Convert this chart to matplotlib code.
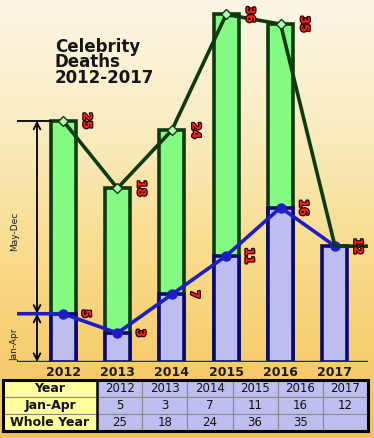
"""Celebrity deaths 2012-2017: whole-year vs Jan-Apr counts, with summary table."""
import matplotlib
matplotlib.use("Agg")
import matplotlib.pyplot as plt
import matplotlib.patheffects as pe
from matplotlib.patches import Rectangle
import numpy as np

YEARS = ["2012", "2013", "2014", "2015", "2016", "2017"]
JAN_APR = [5, 3, 7, 11, 16, 12]
WHOLE_YEAR = [25, 18, 24, 36, 35, None]

TITLE = "Celebrity\nDeaths\n2012-2017"
ROW_LABELS = ["Year", "Jan-Apr", "Whole Year"]

GREEN_FILL = "#84FC84"
GREEN_EDGE = "#0C3A0C"
LAV_FILL = "#BDBDF0"
NAVY_EDGE = "#0A0A6E"
BLUE_LINE = "#1E1EC8"
LABEL_RED = "#FF1E1E"

W, H = 374, 438
fig = plt.figure(figsize=(W / 100, H / 100), dpi=100)

# background gradient (cream at top -> warm orange at bottom)
bg = fig.add_axes([0, 0, 1, 1], zorder=0)
stops = np.array([0.0, 0.3, 0.55, 0.8, 1.0])
cols = np.array([
    [252, 246, 230],
    [250, 236, 192],
    [249, 222, 145],
    [247, 206, 112],
    [244, 192, 96],
]) / 255.0
yy = np.linspace(0, 1, H)
grad = np.stack([np.interp(yy, stops, cols[:, k]) for k in range(3)], axis=-1)
grad = np.repeat(grad[:, None, :], W, axis=1)
bg.imshow(grad, aspect="auto", extent=[0, 1, 0, 1])
bg.axis("off")

# main plot area in pixel terms: x 17..368, baseline at y=362
ax = fig.add_axes([17 / W, (H - 362) / H, (368 - 17) / W, 362 / H], zorder=1)
ax.patch.set_alpha(0)
x = np.arange(len(YEARS))
ax.set_xlim(-0.846, 5.607)
ax.set_ylim(0, 37.5)
for s in ax.spines.values():
    s.set_visible(False)
ax.set_yticks([])
ax.set_xticks(x, YEARS)
ax.tick_params(axis="x", length=0, pad=3)
for t in ax.get_xticklabels():
    t.set_fontweight("bold")
    t.set_fontsize(9)
    t.set_color("#1c1c1c")

bw = 0.46
wx = [i for i, v in zip(x, WHOLE_YEAR) if v is not None]
wv = [v for v in WHOLE_YEAR if v is not None]
ax.bar(wx, wv, width=bw, color=GREEN_FILL, edgecolor=GREEN_EDGE, linewidth=2.6, zorder=2)
ax.bar(x, JAN_APR, width=bw, color=LAV_FILL, edgecolor=NAVY_EDGE, linewidth=2.6, zorder=3)

ax.axhline(0, color=BLUE_LINE, lw=2.5, zorder=4)

xl0, xl1 = ax.get_xlim()
# Jan-Apr line, extended to the left edge
ax.plot([xl0] + list(x), [JAN_APR[0]] + JAN_APR, color=BLUE_LINE, lw=2.6,
        marker="o", ms=6.5, markevery=list(range(1, len(x) + 1)), zorder=5,
        solid_capstyle="butt")

# whole-year line, dropping to the 2017 Jan-Apr figure and running off to the right
gx = wx + [x[-1], xl1]
gy = wv + [JAN_APR[-1], JAN_APR[-1]]
ax.plot(gx, gy, color=GREEN_EDGE, lw=2.6, zorder=6, solid_capstyle="butt")
ax.plot(wx, wv, ls="none", marker="D", ms=5.5, mfc="#B4FFB4", mec=GREEN_EDGE, mew=1.0, zorder=7)

stroke = [pe.withStroke(linewidth=1.8, foreground="#2a0000")]
for xi, v in zip(wx, wv):
    ax.text(xi + 0.44, v, str(v), rotation=-90, ha="center", va="center", color=LABEL_RED,
            fontsize=8.5, fontweight="bold", path_effects=stroke, zorder=8)
for xi, v in zip(x, JAN_APR):
    ax.text(xi + 0.42, v, str(v), rotation=-90, ha="center", va="center", color=LABEL_RED,
            fontsize=8.5, fontweight="bold", path_effects=stroke, zorder=8)

# left-hand bracket arrows: Jan-Apr / May-Dec split for 2012
ax_x = ax.get_yaxis_transform()
arrow_x = 0.057
ax.plot([xl0, x[0] - bw / 2], [WHOLE_YEAR[0], WHOLE_YEAR[0]], color="black", lw=1.3, zorder=4)
ax.annotate("", xy=(arrow_x, WHOLE_YEAR[0]), xytext=(arrow_x, JAN_APR[0]), xycoords=ax_x,
            arrowprops=dict(arrowstyle="<->", color="black", lw=1.3, mutation_scale=12,
                            shrinkA=0, shrinkB=0))
ax.annotate("", xy=(arrow_x, 0), xytext=(arrow_x, JAN_APR[0]), xycoords=ax_x,
            arrowprops=dict(arrowstyle="<->", color="black", lw=1.3, mutation_scale=12,
                            shrinkA=0, shrinkB=0))
ax.text(-0.006, 13.5, "May-Dec", transform=ax_x, rotation=90, ha="center", va="center",
        fontsize=6.5, color="#1a1a1a", clip_on=False)
ax.text(-0.006, 1.8, "Jan-Apr", transform=ax_x, rotation=90, ha="center", va="center",
        fontsize=6.5, color="#1a1a1a", clip_on=False)

fig.text(55 / W, 1 - 38 / H, TITLE, ha="left", va="top", fontsize=12, fontweight="bold",
         color="#151515", linespacing=0.82, zorder=9)

# summary table
tax = fig.add_axes([3 / W, (H - 431) / H, 365 / W, 51 / H], zorder=2)
tax.axis("off")
cell_text = [
    [ROW_LABELS[0]] + YEARS,
    [ROW_LABELS[1]] + [str(v) for v in JAN_APR],
    [ROW_LABELS[2]] + ["" if v is None else str(v) for v in WHOLE_YEAR],
]
first_w = 94 / 365
col_w = [first_w] + [(1 - first_w) / len(YEARS)] * len(YEARS)
colours = [["#FFFF9E"] + [LAV_FILL] * len(YEARS) for _ in cell_text]
tbl = tax.table(cellText=cell_text, cellColours=colours, colWidths=col_w,
                cellLoc="center", bbox=[0, 0, 1, 1])
tbl.auto_set_font_size(False)
tbl.set_fontsize(8.5)
for (r, c), cell in tbl.get_celld().items():
    cell.set_edgecolor("#8a8a8a")
    cell.set_linewidth(0.8)
    cell.get_text().set_color("#111111")
    if c == 0:
        cell._loc = "right"
        cell.PAD = 0.04
        cell.get_text().set_fontweight("bold")
        cell.get_text().set_fontsize(9)
tax.add_patch(Rectangle((0, 0), 1, 1, fill=False, ec="black", lw=2.2, transform=tax.transAxes,
                        clip_on=False, zorder=5))
tax.plot([first_w, first_w], [0, 1], color="black", lw=1.8, transform=tax.transAxes,
         clip_on=False, zorder=5)

fig.savefig("out.png", dpi=100)
